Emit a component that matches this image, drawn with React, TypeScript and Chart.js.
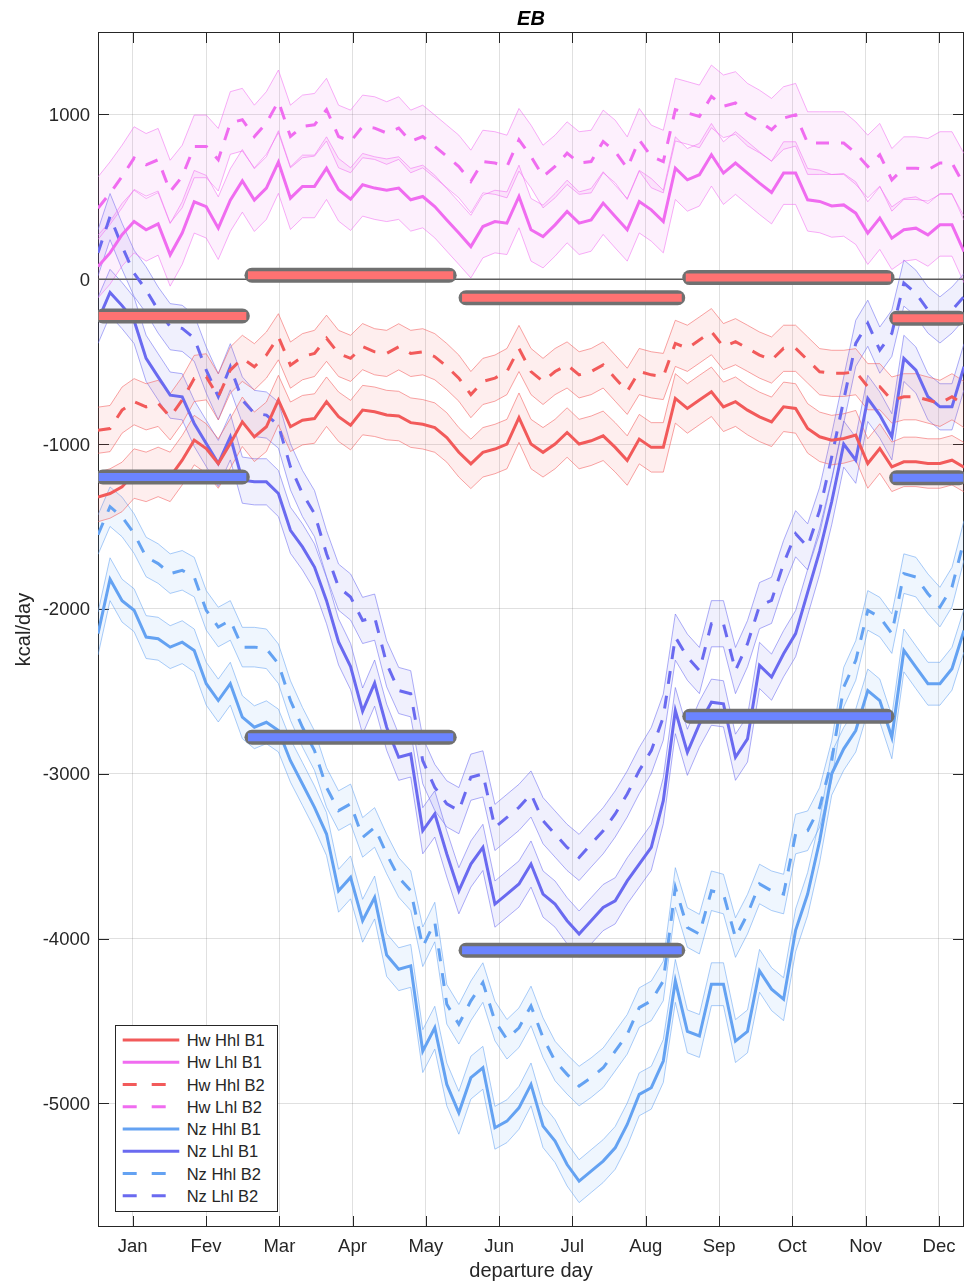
import React, { useEffect, useRef } from 'react';
import { Chart, registerables } from 'chart.js';

Chart.register(...registerables);

// ---------- data ----------
const departureDays = [
  1, 6, 11, 16, 21, 26, 31, 36, 41, 46, 51, 56, 61, 66, 71, 76, 81, 86, 91, 96, 101, 106, 111, 116, 121,
  126, 131, 136, 141, 146, 151, 156, 161, 166, 171, 176, 181, 186, 191, 196, 201, 206, 211, 216, 221, 226, 231, 236, 241,
  246, 251, 256, 261, 266, 271, 276, 281, 286, 291, 296, 301, 306, 311, 316, 321, 326, 331, 336, 341, 346, 351, 356, 361,
];

const monthTickDays = [15.4, 45.9, 76.4, 106.8, 137.3, 167.8, 198.2, 228.7, 259.2, 289.6, 320.1, 350.6];
const monthLabels = ['Jan', 'Fev', 'Mar', 'Apr', 'May', 'Jun', 'Jul', 'Aug', 'Sep', 'Oct', 'Nov', 'Dec'];
const yTickValues = [-5000, -4000, -3000, -2000, -1000, 0, 1000];

const hwHhlB1 = [
  -1321, -1300, -1260, -1179, -1199, -1169, -1199, -1098, -976, -1027, -1118, -996, -865, -956, -895, -733, -895, -855, -845, -743, -834, -885, -794, -804, -824,
  -830, -870, -880, -900, -960, -1050, -1120, -1050, -1030, -1000, -840, -1000, -1050, -1000, -930, -1000, -980, -950, -1020, -1100, -970, -1020, -1020, -723,
  -784, -733, -683, -774, -743, -794, -835, -865, -774, -784, -905, -956, -976, -966, -946, -1118, -1027, -1138, -1108, -1108, -1118, -1118, -1098, -1140,
];
const hwLhlB1 = [
  77, 160, 270, 350, 300, 336, 148, 280, 470, 440, 310, 480, 597, 480, 553, 711, 492, 563, 563, 674, 543, 486, 573, 553, 540,
  553, 482, 502, 441, 360, 280, 198, 320, 350, 340, 502, 300, 259, 330, 411, 340, 360, 462, 380, 300, 471, 421, 350, 674,
  603, 634, 755, 644, 705, 644, 583, 526, 644, 644, 482, 472, 445, 451, 401, 280, 371, 249, 300, 310, 269, 330, 330, 168,
];
const hwHhlB2 = [
  -916, -906, -794, -743, -774, -753, -835, -733, -602, -592, -713, -551, -480, -531, -460, -349, -521, -470, -450, -358, -450, -480, -409, -440, -450,
  -410, -450, -440, -470, -530, -600, -700, -620, -600, -560, -420, -560, -620, -560, -520, -580, -560, -520, -600, -680, -560, -580, -590, -389,
  -419, -369, -318, -409, -379, -419, -460, -490, -419, -419, -490, -561, -571, -571, -561, -652, -652, -733, -713, -713, -733, -753, -713, -760,
];
const hwLhlB2 = [
  431, 522, 623, 735, 694, 725, 532, 623, 806, 806, 725, 948, 968, 866, 948, 1079, 866, 927, 937, 1029, 866, 836, 927, 917, 887,
  917, 836, 866, 806, 745, 684, 593, 714, 705, 684, 846, 745, 623, 684, 765, 705, 714, 836, 775, 674, 846, 745, 714, 1029,
  1009, 988, 1109, 1049, 1069, 998, 957, 907, 978, 998, 826, 826, 826, 826, 765, 684, 755, 603, 674, 674, 664, 705, 705, 573,
];
const nzHhlB1 = [
  -2150, -1820, -1950, -2008, -2171, -2181, -2232, -2202, -2252, -2454, -2556, -2454, -2657, -2718, -2688, -2738, -2921, -3062, -3204, -3366, -3710, -3629, -3892, -3751, -4100,
  -4186, -4166, -4683, -4541, -4885, -5057, -4844, -4784, -5148, -5108, -5027, -4885, -5138, -5229, -5371, -5472, -5411, -5350, -5270, -5128, -4945, -4905, -4743, -4257,
  -4563, -4591, -4277, -4277, -4622, -4563, -4196, -4307, -4368, -3950, -3730, -3407, -3000, -2849, -2738, -2495, -2556, -2779, -2252, -2354, -2454, -2454, -2363, -2131,
];
const nzLhlB1 = [
  -250, -80, -160, -250, -480, -592, -703, -713, -875, -996, -1118, -956, -1219, -1229, -1229, -1300, -1523, -1624, -1746, -1950, -2200, -2350, -2620, -2450, -2718,
  -2900, -2880, -3346, -3244, -3487, -3710, -3548, -3447, -3791, -3730, -3669, -3548, -3730, -3791, -3892, -3973, -3892, -3812, -3771, -3650, -3548, -3447, -3163, -2617,
  -2870, -2700, -2566, -2576, -2900, -2789, -2343, -2414, -2272, -2150, -1900, -1650, -1350, -1000, -1098, -723, -824, -956, -480, -551, -713, -774, -774, -531,
];
const nzHhlB2 = [
  -1550, -1380, -1442, -1543, -1685, -1725, -1786, -1766, -1807, -2009, -2110, -2070, -2232, -2232, -2242, -2333, -2556, -2718, -2860, -3083, -3224, -3183, -3386, -3326, -3487,
  -3629, -3710, -4050, -3900, -4399, -4520, -4378, -4267, -4500, -4611, -4541, -4409, -4601, -4743, -4824, -4895, -4844, -4784, -4683, -4581, -4419, -4378, -4257, -3690,
  -3933, -3973, -3710, -3730, -3994, -3852, -3669, -3710, -3730, -3366, -3346, -3204, -2921, -2475, -2313, -2009, -2050, -2150, -1786, -1807, -1908, -1989, -1868, -1584,
];
const nzLhlB2 = [
  160, 380, 200, 36, -65, -187, -288, -298, -358, -551, -713, -531, -733, -814, -824, -885, -1138, -1300, -1422, -1665, -1868, -1928, -2070, -2050, -2333,
  -2495, -2515, -2921, -3083, -3183, -3224, -3021, -3001, -3326, -3265, -3204, -3123, -3285, -3366, -3447, -3508, -3426, -3346, -3244, -3123, -2981, -2860, -2657, -2171,
  -2293, -2374, -2090, -2090, -2374, -2211, -1980, -1948, -1725, -1544, -1624, -1402, -1078, -733, -389, -267, -430, -328, -23, -85, -187, -247, -187, -105,
];

// half width of the shaded band (± spread) for each series, same order as seriesNames
const seriesNames = ['Hw Hhl B1', 'Hw Lhl B1', 'Hw Hhl B2', 'Hw Lhl B2', 'Nz Hhl B1', 'Nz Lhl B1', 'Nz Hhl B2', 'Nz Lhl B2'];
const bandHalfWidth = [150, 190, 140, 190, 130, 140, 120, 140];

// seasonal means (thick bars)
const seasonStartDays = [3, 65, 154, 247, 333];
const seasonEndDays = [61, 147, 242, 329, 359];
const hwSeasonMeans = [-223, 24, -112, 10, -237];
const nzSeasonMeans = [-1200, -2779, -4071, -2651, -1205];

// ---------- styles ----------
const FONT = '"Liberation Sans", Arial, Helvetica, sans-serif';
const TEXT = '#262626';
const RED = [242, 90, 90];
const MAGENTA = [240, 108, 240];
const LIGHTBLUE = [100, 162, 242];
const PURPLE = [106, 106, 240];
const rgba = (c: number[], a: number) => `rgba(${c[0]},${c[1]},${c[2]},${a})`;
const DASH = [13, 12];

const seriesValues = [hwHhlB1, hwLhlB1, hwHhlB2, hwLhlB2, nzHhlB1, nzLhlB1, nzHhlB2, nzLhlB2];
const seriesColors = [RED, MAGENTA, RED, MAGENTA, LIGHTBLUE, PURPLE, LIGHTBLUE, PURPLE];
const seriesDashed = [false, false, true, true, false, false, true, true];

const axesBoxPlugin = {
  id: 'axesBox',
  beforeDatasetsDraw(chart: any) {
    const { ctx, chartArea: a, scales } = chart;
    ctx.save();
    ctx.strokeStyle = TEXT;
    ctx.lineWidth = 1;
    ctx.strokeRect(a.left + 0.5, a.top + 0.5, a.right - a.left - 1, a.bottom - a.top - 1);
    const L = 11;
    ctx.beginPath();
    scales.x.ticks.forEach((t: any) => {
      const px = Math.round(scales.x.getPixelForValue(t.value)) + 0.5;
      ctx.moveTo(px, a.bottom);
      ctx.lineTo(px, a.bottom - L);
      ctx.moveTo(px, a.top);
      ctx.lineTo(px, a.top + L);
    });
    scales.y.ticks.forEach((t: any) => {
      const py = Math.round(scales.y.getPixelForValue(t.value)) + 0.5;
      ctx.moveTo(a.left, py);
      ctx.lineTo(a.left + L, py);
      ctx.moveTo(a.right, py);
      ctx.lineTo(a.right - L, py);
    });
    ctx.stroke();
    ctx.restore();
  },
};

function buildDatasets() {
  const ds: any[] = [];
  // season bars (top-most)
  seasonStartDays.forEach((s, i) => {
    const e = seasonEndDays[i];
    [
      { v: hwSeasonMeans[i], c: '#ff7272' },
      { v: nzSeasonMeans[i], c: '#6b84ff' },
    ].forEach((b) => {
      ds.push({
        data: [{ x: s, y: b.v }, { x: e, y: b.v }],
        borderColor: b.c,
        borderWidth: 8,
        borderCapStyle: 'square',
        pointRadius: 0,
        fill: false,
        order: 0,
      });
      ds.push({
        data: [{ x: s, y: b.v }, { x: e, y: b.v }],
        borderColor: '#707070',
        borderWidth: 15,
        borderCapStyle: 'round',
        pointRadius: 0,
        fill: false,
        order: 1,
      });
    });
  });
  // main lines
  seriesValues.forEach((vals, k) => {
    ds.push({
      label: seriesNames[k],
      data: vals.map((v, i) => ({ x: departureDays[i], y: v })),
      borderColor: rgba(seriesColors[k], 1),
      borderWidth: 3,
      borderDash: seriesDashed[k] ? DASH : [],
      pointRadius: 0,
      fill: false,
      order: 5,
    });
  });
  // zero line
  ds.push({
    data: [{ x: departureDays[0], y: 0 }, { x: departureDays[departureDays.length - 1], y: 0 }],
    borderColor: '#5a5a5a',
    borderWidth: 1.5,
    pointRadius: 0,
    fill: false,
    order: 7,
  });
  // bands
  seriesValues.forEach((vals, k) => {
    const hw = bandHalfWidth[k];
    ds.push({
      data: vals.map((v, i) => ({ x: departureDays[i], y: v - hw })),
      borderColor: rgba(seriesColors[k], 0.55),
      borderWidth: 1,
      pointRadius: 0,
      fill: false,
      order: 10,
    });
    ds.push({
      data: vals.map((v, i) => ({ x: departureDays[i], y: v + hw })),
      borderColor: rgba(seriesColors[k], 0.55),
      backgroundColor: rgba(seriesColors[k], 0.1),
      borderWidth: 1,
      pointRadius: 0,
      fill: '-1',
      order: 10,
    });
  });
  return ds;
}

function Legend() {
  const rowY = (i: number) => 15 + 22.25 * i;
  return (
    <svg
      width={163}
      height={187}
      style={{ position: 'absolute', left: 115, top: 1025 }}
    >
      <rect x={0.5} y={0.5} width={162} height={186} fill="#ffffff" stroke={TEXT} strokeWidth={1} />
      {seriesNames.map((n, i) => (
        <g key={n}>
          <line
            x1={7.7}
            x2={64.3}
            y1={rowY(i)}
            y2={rowY(i)}
            stroke={rgba(seriesColors[i], 1)}
            strokeWidth={3}
            strokeDasharray={seriesDashed[i] ? '14 15' : undefined}
          />
          <text
            x={71.7}
            y={rowY(i)}
            dominantBaseline="central"
            fontFamily={FONT}
            fontSize={16.5}
            fill={TEXT}
          >
            {n}
          </text>
        </g>
      ))}
    </svg>
  );
}

export default function App() {
  const canvasRef = useRef<HTMLCanvasElement | null>(null);

  useEffect(() => {
    document.body.style.margin = '0';
    document.body.style.overflow = 'hidden';
    const canvas = canvasRef.current;
    if (!canvas) return;
    const chart = new Chart(canvas, {
      type: 'line',
      data: { datasets: buildDatasets() },
      options: {
        animation: false,
        responsive: false,
        devicePixelRatio: 1,
        layout: { padding: { left: 0, right: 5, top: 0, bottom: 0 } },
        elements: { point: { radius: 0 }, line: { tension: 0 } },
        plugins: {
          legend: { display: false },
          tooltip: { enabled: false },
          title: {
            display: true,
            text: 'EB',
            fullSize: false,
            color: '#000',
            font: { family: FONT, size: 20, weight: 'bold', style: 'italic' },
            padding: { top: 7, bottom: 1 },
          },
        },
        scales: {
          x: {
            type: 'linear',
            min: departureDays[0],
            max: departureDays[departureDays.length - 1],
            afterBuildTicks: (s: any) => {
              s.ticks = monthTickDays.map((v) => ({ value: v }));
            },
            afterFit: (s: any) => {
              s.height = 56;
            },
            ticks: {
              autoSkip: false,
              maxRotation: 0,
              padding: 9,
              color: TEXT,
              font: { family: FONT, size: 18.5 },
              callback: (v: any) => monthLabels[monthTickDays.indexOf(Number(v))] ?? '',
            },
            grid: { color: 'rgba(38,38,38,0.14)', drawTicks: false },
            border: { display: false },
            title: {
              display: true,
              text: 'departure day',
              color: TEXT,
              font: { family: FONT, size: 20 },
              padding: { top: 0, bottom: 0 },
            },
          },
          y: {
            type: 'linear',
            min: -5750,
            max: 1500,
            afterBuildTicks: (s: any) => {
              s.ticks = yTickValues.map((v) => ({ value: v }));
            },
            afterFit: (s: any) => {
              s.width = 98;
            },
            ticks: {
              padding: 8,
              labelOffset: 1.5,
              color: TEXT,
              font: { family: FONT, size: 18.5 },
              callback: (v: any) => String(v),
            },
            grid: { color: 'rgba(38,38,38,0.14)', drawTicks: false },
            border: { display: false },
            title: {
              display: true,
              text: 'kcal/day',
              color: TEXT,
              font: { family: FONT, size: 20 },
              padding: { top: 12, bottom: 0 },
            },
          },
        },
      },
      plugins: [axesBoxPlugin],
    } as any);
    return () => chart.destroy();
  }, []);

  return (
    <div style={{ position: 'absolute', left: 0, top: 0, width: 969, height: 1283, background: '#fff' }}>
      <canvas ref={canvasRef} width={969} height={1283} style={{ display: 'block' }} />
      <Legend />
    </div>
  );
}
